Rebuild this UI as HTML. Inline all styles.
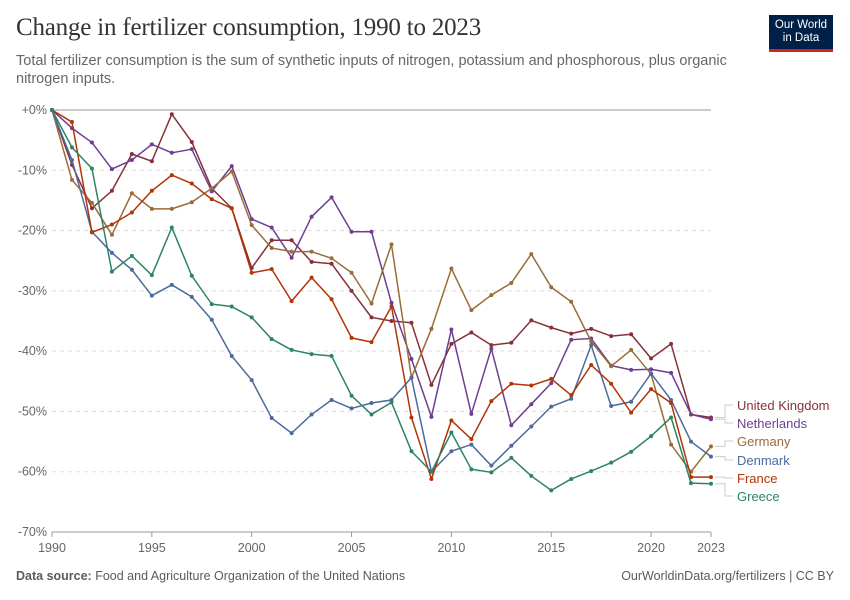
<!DOCTYPE html>
<html><head><meta charset="utf-8"><style>
body{margin:0;background:#fff;font-family:"Liberation Sans",sans-serif;}
#wrap{position:relative;width:850px;height:600px;overflow:hidden;}
h1{position:absolute;left:16px;top:14px;margin:0;font-family:"Liberation Serif",serif;font-weight:normal;font-size:25px;color:#333;letter-spacing:-0.2px}
.sub{position:absolute;left:16px;top:52px;width:740px;font-size:14.5px;line-height:18px;color:#666}
.logo{position:absolute;left:769px;top:15px;width:64px;height:37px;background:#002147;color:#fff;font-size:11.5px;line-height:13px;text-align:center;padding-top:4px;box-sizing:border-box;border-bottom:3px solid #ce261e}
.foot{position:absolute;top:569px;font-size:12.5px;color:#5b5b5b}
</style></head><body><div id="wrap">
<h1>Change in fertilizer consumption, 1990 to 2023</h1>
<div class="sub">Total fertilizer consumption is the sum of synthetic inputs of nitrogen, potassium and phosphorous, plus organic nitrogen inputs.</div>
<div class="logo">Our World<br>in Data</div>
<svg id="chart" width="850" height="600" style="position:absolute;left:0;top:0"></svg>
<div class="foot" style="left:16px"><b>Data source:</b> Food and Agriculture Organization of the United Nations</div>
<div class="foot" style="right:16px">OurWorldinData.org/fertilizers | CC BY</div>
</div>
<script>
const years=[];for(let y=1990;y<=2023;y++)years.push(y);
const yTicks=[0,-10,-20,-30,-40,-50,-60,-70];
const xTicks=[1990,1995,2000,2005,2010,2015,2020,2023];
const seriesNames=["United Kingdom","Netherlands","Germany","Denmark","France","Greece"];
const seriesColors=["#883039","#6d3e91","#996d39","#4c6a9c","#b13507","#2c8465"];
const ukValues=[0,-9.1,-16.3,-13.4,-7.3,-8.5,-0.7,-5.3,-13,-16.3,-26.2,-21.6,-21.6,-25.2,-25.5,-30,-34.4,-35,-35.3,-45.6,-38.8,-36.9,-39,-38.6,-34.9,-36.1,-37.1,-36.3,-37.5,-37.2,-41.2,-38.8,-50.5,-51];
const nlValues=[0,-3,-5.4,-9.8,-8.3,-5.7,-7.1,-6.5,-13.5,-9.3,-18.1,-19.5,-24.5,-17.7,-14.5,-20.2,-20.2,-32,-41.3,-50.9,-36.4,-50.4,-39.6,-52.3,-48.8,-45.3,-38.1,-37.9,-42.4,-43.1,-43,-43.6,-50.5,-51.3];
const deValues=[0,-11.6,-15.4,-20.7,-13.8,-16.4,-16.4,-15.3,-13,-10.2,-19.1,-22.9,-23.5,-23.5,-24.6,-27,-32.1,-22.3,-44.4,-36.3,-26.3,-33.2,-30.7,-28.7,-23.9,-29.4,-31.8,-38.4,-42.5,-39.8,-43.8,-55.5,-60,-55.8];
const dkValues=[0,-8.3,-20.2,-23.7,-26.5,-30.8,-29,-31,-34.8,-40.8,-44.8,-51.1,-53.6,-50.5,-48.1,-49.5,-48.6,-48.1,-44.4,-60,-56.6,-55.5,-59,-55.7,-52.5,-49.2,-47.9,-39,-49.1,-48.4,-43.7,-48.1,-55,-57.5];
const frValues=[0,-2,-20.3,-19,-17,-13.4,-10.8,-12.2,-14.8,-16.3,-27,-26.4,-31.7,-27.8,-31.4,-37.8,-38.5,-32.6,-51,-61.2,-51.5,-54.6,-48.3,-45.4,-45.7,-44.6,-47.3,-42.3,-45.4,-50.2,-46.3,-48.6,-60.9,-60.9];
const grValues=[0,-6.2,-9.7,-26.8,-24.2,-27.4,-19.5,-27.5,-32.2,-32.6,-34.4,-38,-39.8,-40.5,-40.8,-47.4,-50.5,-48.5,-56.6,-60,-53.5,-59.6,-60.1,-57.7,-60.7,-63.1,-61.2,-59.9,-58.5,-56.7,-54.1,-51,-61.9,-62];
const allSeries=[ukValues,nlValues,deValues,dkValues,frValues,grValues];
const labelY=[405,423,441,460,478,496];
const NS="http://www.w3.org/2000/svg";
const svg=document.getElementById('chart');
const X0=52,X1=711,Y0=110,Y1=532;
const xS=y=>X0+(y-1990)*(X1-X0)/33;
const yS=v=>Y0+(-v)*(Y1-Y0)/70;
function mk(t,a){const e=document.createElementNS(NS,t);for(const k in a)e.setAttribute(k,a[k]);svg.appendChild(e);return e;}
yTicks.forEach(t=>{
 const l=mk('line',{x1:X0,x2:X1,y1:yS(t),y2:yS(t),stroke:t===0?'#bbb':'#ddd','stroke-width':t===0?1.5:1,'stroke-dasharray':t===0||t===-70?'none':'4,4'});
 
 
 const tx=mk('text',{x:47,y:yS(t)+4,'text-anchor':'end','font-size':12.5,fill:'#666'});
 tx.textContent=(t===0?'+0':t)+'%';
 
 
});
mk('line',{x1:X0,x2:X1,y1:Y1,y2:Y1,stroke:'#999'});
xTicks.forEach(t=>{
 const l=mk('line',{x1:xS(t),x2:xS(t),y1:Y1,y2:Y1+5,stroke:'#999'});
 
 
 const tx=mk('text',{x:xS(t),y:Y1+20,'text-anchor':'middle','font-size':12.5,fill:'#666'});
 tx.textContent=t;
 
 
});
allSeries.forEach((vals,i)=>{
 const c=seriesColors[i];
 const p=mk('polyline',{points:vals.map((v,j)=>xS(years[j])+','+yS(v)).join(' '),fill:'none',stroke:c,'stroke-width':1.5,'stroke-linejoin':'round'});
 
 
 vals.forEach((v,j)=>{
  const d=mk('circle',{cx:xS(years[j]),cy:yS(v),r:2,fill:c});
  
  
 });
 const ly=labelY[i],ey=yS(vals[vals.length-1]);
 const con=mk('polyline',{points:`${X1+4},${ey} ${X1+14},${ey} ${X1+14},${ly} ${X1+22},${ly}`,fill:'none',stroke:'#ccc','stroke-width':1});
 
 
 const tx=mk('text',{x:737,y:ly+5,'font-size':13,fill:c});
 tx.textContent=seriesNames[i];
 
 
});
</script></body></html>
